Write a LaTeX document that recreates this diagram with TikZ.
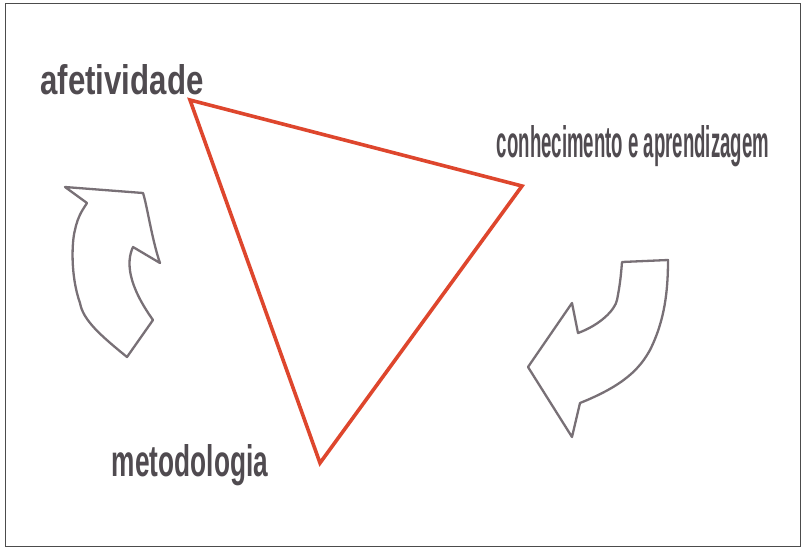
\documentclass[tikz,border=0pt]{standalone}
\usepackage{fontspec}
\setmainfont{Liberation Sans}
\usepackage{graphicx}
\definecolor{tri}{RGB}{222,70,45}
\definecolor{arr}{RGB}{120,112,118}
\definecolor{lab}{RGB}{80,75,80}
\tikzset{
  lbl/.style={inner sep=0pt, text=lab, font=\bfseries},
  arrowshape/.style={draw=arr, line width=2.3pt, line join=round, fill=white},
  tribox/.style={draw=tri, line width=3.6pt, line join=miter}
}
\begin{document}
\begin{tikzpicture}[x=1pt,y=-1pt]
\useasboundingbox (0,0) rectangle (804,550);
\fill[white] (0,0) rectangle (804,550);
\draw[black!70, line width=0.8pt] (5,3) rectangle (800,546);
% triangle
\coordinate (A) at (190,100);
\coordinate (B) at (522,186);
\coordinate (C) at (320,463);
\draw[tribox] (A) -- (B) -- (C) -- cycle;
% labels
\node[lbl] (la) at (122,80) {\resizebox{163pt}{30pt}{afetividade}};
\node[lbl] (lb) at (633,146) {\resizebox{272pt}{32pt}{conhecimento e aprendizagem}};
\node[lbl] (lc) at (190,465) {\resizebox{156pt}{32pt}{metodologia}};
% left curved arrow
\draw[arrowshape] (65,187) -- (143,193) .. controls (147,205) and (152,240) .. (160,263)
  -- (133,247) .. controls (126,262) and (128,285) .. (153,320)
  -- (127,357) .. controls (100,335) and (83,320) .. (80,303)
  .. controls (70,275) and (72,240) .. (75,230) .. controls (78,215) and (84,208) .. (87,203) -- cycle;
% right curved arrow
\draw[arrowshape] (622,262) -- (668,260) .. controls (668,290) and (665,320) .. (650,350)
  .. controls (640,368) and (625,385) .. (580,403)
  -- (572,437) -- (528,367) -- (572,303) -- (578,333)
  .. controls (600,325) and (615,310) .. (617,300) .. controls (620,285) and (621,275) .. (622,262) -- cycle;
\end{tikzpicture}
\end{document}
